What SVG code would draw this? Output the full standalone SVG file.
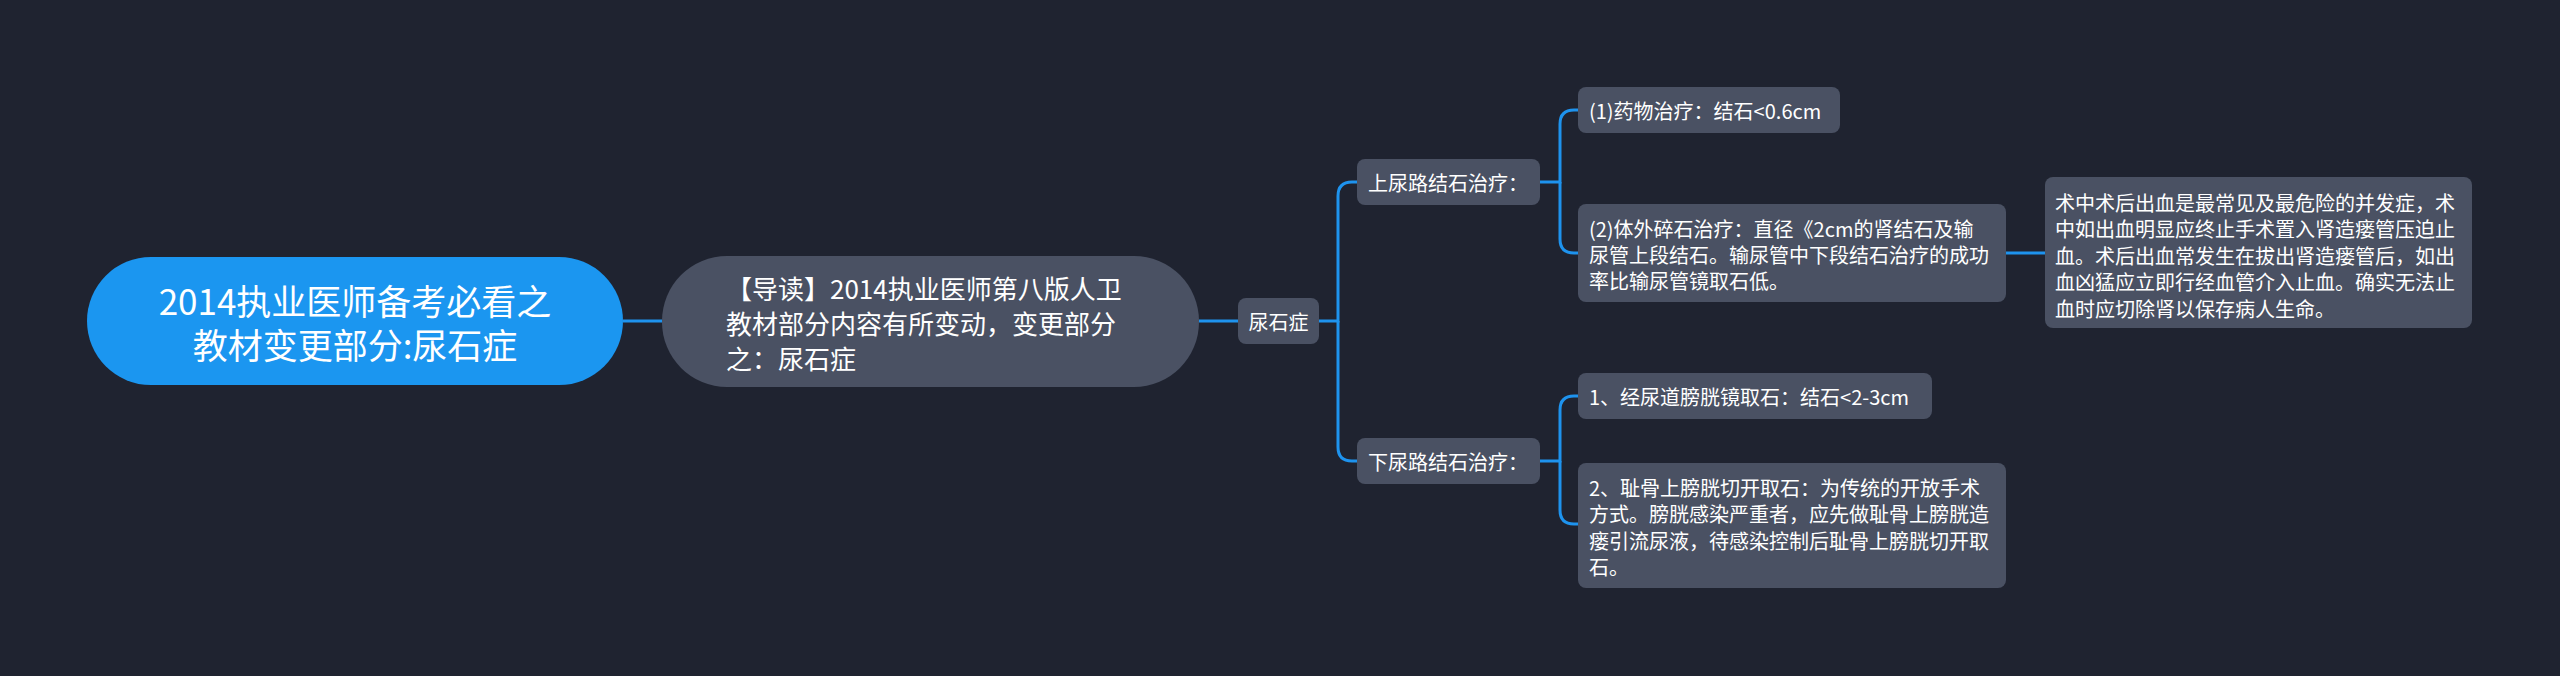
<svg xmlns="http://www.w3.org/2000/svg" width="2560" height="676" viewBox="0 0 2560 676">
<style>
.bg{fill:#1f2330}
.n{fill:#4a5163}
.root{fill:#1b96f0}
.c{fill:none;stroke:#1e93ee;stroke-width:3}
text{font-family:"Noto Sans CJK SC","Noto Sans",sans-serif;fill:#ffffff;dominant-baseline:central}
.t35{font-size:35px}
.t26{font-size:26px}
.t20{font-size:20px}
</style>
<rect class="bg" x="0" y="0" width="2560" height="676"/>
<g id="connectors">
<path class="c" d="M623 321 H662"/>
<path class="c" d="M1199 321 H1238"/>
<path class="c" d="M1319 321 H1338 V196 Q1338 182 1352 182 H1357"/>
<path class="c" d="M1338 321 V447 Q1338 461 1352 461 H1357"/>
<path class="c" d="M1540 182 H1560 V124 Q1560 110 1574 110 H1578"/>
<path class="c" d="M1560 182 V239 Q1560 253 1574 253 H1578"/>
<path class="c" d="M2006 253 H2045"/>
<path class="c" d="M1540 461 H1560 V410 Q1560 396 1574 396 H1578"/>
<path class="c" d="M1560 461 V510 Q1560 524 1574 524 H1578"/>
</g>
<g id="root">
<rect class="root" x="87" y="257" width="536" height="128" rx="64"/>
<text class="t35" x="355" y="299" text-anchor="middle">2014执业医师备考必看之</text>
<text class="t35" x="355" y="343" text-anchor="middle">教材变更部分:尿石症</text>
</g>
<g id="intro">
<rect class="n" x="662" y="256" width="537" height="131" rx="65"/>
<text class="t26" x="726" y="287">【导读】2014执业医师第八版人卫</text>
<text class="t26" x="726" y="322">教材部分内容有所变动，变更部分</text>
<text class="t26" x="726" y="357">之：尿石症</text>
</g>
<g id="niaoshizheng">
<rect class="n" x="1238" y="298" width="81" height="46" rx="8"/>
<text class="t20" x="1278.5" y="321" text-anchor="middle">尿石症</text>
</g>
<g id="upper">
<rect class="n" x="1357" y="159" width="183" height="46" rx="8"/>
<text class="t20" x="1368" y="182">上尿路结石治疗：</text>
</g>
<g id="lower">
<rect class="n" x="1357" y="438" width="183" height="46" rx="8"/>
<text class="t20" x="1368" y="461">下尿路结石治疗：</text>
</g>
<g id="upper1">
<rect class="n" x="1578" y="87" width="262" height="46" rx="8"/>
<text class="t20" x="1589" y="110">(1)药物治疗：结石&lt;0.6cm</text>
</g>
<g id="upper2">
<rect class="n" x="1578" y="204" width="428" height="98" rx="8"/>
<text class="t20" x="1589" y="228">(2)体外碎石治疗：直径《2cm的肾结石及输</text>
<text class="t20" x="1589" y="254">尿管上段结石。输尿管中下段结石治疗的成功</text>
<text class="t20" x="1589" y="280">率比输尿管镜取石低。</text>
</g>
<g id="bleeding">
<rect class="n" x="2045" y="177" width="427" height="151" rx="8"/>
<text class="t20" x="2055" y="202">术中术后出血是最常见及最危险的并发症，术</text>
<text class="t20" x="2055" y="228.5">中如出血明显应终止手术置入肾造瘘管压迫止</text>
<text class="t20" x="2055" y="255">血。术后出血常发生在拔出肾造瘘管后，如出</text>
<text class="t20" x="2055" y="281.5">血凶猛应立即行经血管介入止血。确实无法止</text>
<text class="t20" x="2055" y="308">血时应切除肾以保存病人生命。</text>
</g>
<g id="lower1">
<rect class="n" x="1578" y="373" width="354" height="46" rx="8"/>
<text class="t20" x="1589" y="396">1、经尿道膀胱镜取石：结石&lt;2-3cm</text>
</g>
<g id="lower2">
<rect class="n" x="1578" y="463" width="428" height="125" rx="8"/>
<text class="t20" x="1589" y="487">2、耻骨上膀胱切开取石：为传统的开放手术</text>
<text class="t20" x="1589" y="513.5">方式。膀胱感染严重者，应先做耻骨上膀胱造</text>
<text class="t20" x="1589" y="540">瘘引流尿液，待感染控制后耻骨上膀胱切开取</text>
<text class="t20" x="1589" y="566.5">石。</text>
</g>
</svg>
